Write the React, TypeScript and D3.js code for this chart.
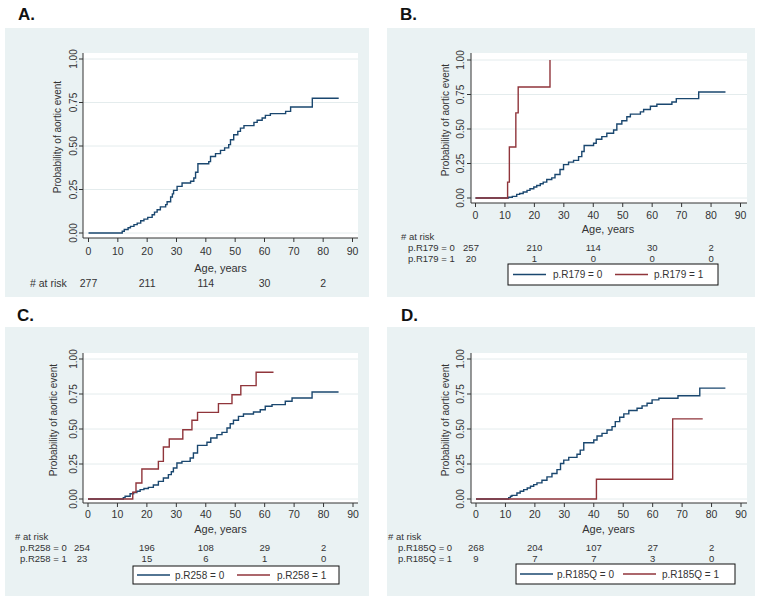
import React from "react";
import * as d3 from "d3";

// ---------- data ----------
const xTicks = [0, 10, 20, 30, 40, 50, 60, 70, 80, 90];
const yTicks = [0, 0.25, 0.5, 0.75, 1];
const riskAges = [0, 20, 40, 60, 80];

const aAll: [number, number][] = [[0,0],[11.5,0.01],[12.2,0.02],[13.5,0.03],[14.3,0.038],[15.5,0.048],[16.6,0.057],[17.8,0.07],[18.9,0.08],[20.2,0.09],[21.7,0.105],[22.5,0.12],[23.4,0.134],[24.5,0.15],[26.3,0.163],[26.8,0.18],[28,0.207],[28.6,0.225],[29,0.245],[30.2,0.268],[31.9,0.287],[34.8,0.297],[35.9,0.316],[36.5,0.349],[37.3,0.398],[41,0.41],[41.6,0.44],[43.3,0.456],[45,0.475],[46.4,0.489],[47.8,0.508],[48.4,0.536],[49.5,0.565],[50.9,0.584],[51.8,0.603],[53,0.617],[56.4,0.636],[57.5,0.648],[59.2,0.661],[60.3,0.676],[62,0.686],[67.2,0.699],[68.9,0.724],[76.3,0.774],[85.3,0.774]];

const bNo: [number, number][] = [[0,0],[11.2,0.005],[12.5,0.012],[14,0.026],[15,0.033],[16.2,0.043],[17.5,0.055],[18.5,0.067],[19.8,0.08],[20.8,0.091],[22,0.103],[23,0.115],[24.2,0.134],[25.9,0.146],[27,0.17],[28.7,0.206],[29.9,0.242],[31.6,0.26],[33.3,0.273],[35,0.3],[36.1,0.337],[36.9,0.38],[40.1,0.397],[41,0.426],[42.9,0.445],[44.6,0.469],[46.9,0.493],[48,0.536],[49.7,0.56],[51.4,0.589],[52.6,0.608],[56,0.624],[57.1,0.641],[59.4,0.665],[61.6,0.679],[66.7,0.696],[68.2,0.72],[75.8,0.768],[84.9,0.768]];
const bYes: [number, number][] = [[0,0],[10.9,0.115],[11.5,0.37],[13.7,0.617],[14.5,0.804],[25.3,1.0]];

const cNo: [number, number][] = [[0,0],[12,0.01],[12.6,0.02],[14.3,0.038],[15.5,0.046],[16.6,0.055],[17.7,0.067],[19,0.075],[20.5,0.083],[22.2,0.1],[23.9,0.126],[25.6,0.15],[27.3,0.174],[28.3,0.195],[29,0.221],[30.2,0.257],[31.9,0.269],[34.7,0.293],[35.8,0.329],[37.2,0.383],[40.4,0.405],[41.7,0.436],[43.8,0.46],[45.5,0.476],[47.2,0.507],[48.3,0.538],[49.4,0.562],[51.1,0.59],[52.8,0.607],[56.2,0.621],[58.5,0.638],[60.2,0.662],[62.5,0.674],[67,0.698],[69.3,0.721],[76.1,0.764],[85.1,0.764]];
const cYes: [number, number][] = [[0,0],[15.2,0.048],[16.3,0.114],[18.3,0.214],[23.9,0.269],[25.6,0.371],[27.6,0.429],[32.2,0.495],[35.3,0.562],[37.2,0.619],[44.3,0.681],[48.9,0.745],[51.9,0.81],[57.1,0.905],[63,0.905]];

const dNo: [number, number][] = [[0,0],[11.1,0.01],[11.7,0.02],[12.2,0.026],[13.9,0.043],[15,0.055],[16.2,0.067],[17.4,0.079],[18.5,0.091],[19.6,0.103],[20.7,0.115],[22.4,0.134],[24.1,0.158],[25.8,0.182],[27.5,0.21],[28.7,0.254],[29.8,0.278],[31.5,0.297],[34.3,0.32],[35.4,0.349],[36.6,0.402],[40,0.421],[41.1,0.45],[42.8,0.469],[44.5,0.493],[46.2,0.517],[47.3,0.553],[48.8,0.584],[50.2,0.608],[51.9,0.632],[54.7,0.648],[56.4,0.665],[58.1,0.684],[59.8,0.708],[62.1,0.72],[68.6,0.737],[76,0.792],[84.7,0.792]];
const dYes: [number, number][] = [[0,0],[40.9,0.141],[66.8,0.572],[77,0.572]];

const aRisk = [277, 211, 114, 30, 2];
const bRiskNo = [257, 210, 114, 30, 2];
const bRiskYes = [20, 1, 0, 0, 0];
const cRiskNo = [254, 196, 108, 29, 2];
const cRiskYes = [23, 15, 6, 1, 0];
const dRiskNo = [268, 204, 107, 27, 2];
const dRiskYes = [9, 7, 7, 3, 0];

const BLUE = "#1a476f";
const RED = "#90353b";
const BG = "#eaf2f3";
const GRID = "#e4eced";
const TXT = "#333";
const FONT = "'Liberation Sans', Arial, sans-serif";

type Series = { data: [number, number][]; color: string };
type RiskRow = { label: string; values: number[] };

interface PanelProps {
  letter: string;
  letterPos: [number, number];
  bg: { x: number; y: number; w: number; h: number };
  plot: { l: number; t: number; r: number; b: number };
  xr: [number, number];
  yr: [number, number];
  xTickLabelY: number;
  xTitleY: number;
  yTickLabelX: number;
  yTitleX: number;
  yTitleY: number;
  series: Series[];
  riskHeader: [number, number];
  riskRows: RiskRow[];
  riskRowY: number[];
  riskLabelX: number;
  firstColX: number;
  legend?: { x: number; y: number; w: number; h: number; items: { label: string; color: string; lx: number; tx: number }[] };
}

function Panel(p: PanelProps) {
  const x = d3.scaleLinear().domain([0, 90]).range(p.xr);
  const y = d3.scaleLinear().domain([0, 1]).range(p.yr);
  const line = d3
    .line<[number, number]>()
    .x((d) => x(d[0]))
    .y((d) => y(d[1]))
    .curve(d3.curveStepAfter);
  const fs = 10;
  const rowFs = p.riskRows.length > 1 ? 9.5 : 10.5;
  return (
    <g fontFamily={FONT}>
      <text x={p.letterPos[0]} y={p.letterPos[1]} fontSize={17} fontWeight="bold" fill="#111" dominantBaseline="central">
        {p.letter}
      </text>
      <rect x={p.bg.x} y={p.bg.y} width={p.bg.w} height={p.bg.h} fill={BG} />
      <rect x={p.plot.l} y={p.plot.t} width={p.plot.r - p.plot.l} height={p.plot.b - p.plot.t} fill="#fff" />
      {yTicks.map((v) => (
        <line key={"g" + v} x1={p.plot.l} x2={p.plot.r} y1={y(v)} y2={y(v)} stroke={GRID} strokeWidth={1} />
      ))}
      <line x1={p.plot.l} x2={p.plot.l} y1={p.plot.t} y2={p.plot.b} stroke="#333" strokeWidth={1} />
      <line x1={p.plot.l} x2={p.plot.r} y1={p.plot.b} y2={p.plot.b} stroke="#333" strokeWidth={1} />
      {yTicks.map((v) => (
        <g key={"yt" + v}>
          <line x1={p.plot.l - 4} x2={p.plot.l} y1={y(v)} y2={y(v)} stroke="#333" />
          <text
            transform={`translate(${p.yTickLabelX},${y(v)}) rotate(-90)`}
            textAnchor="middle"
            dominantBaseline="central"
            fontSize={fs}
            fill={TXT}
          >
            {v.toFixed(2)}
          </text>
        </g>
      ))}
      {xTicks.map((v) => (
        <g key={"xt" + v}>
          <line x1={x(v)} x2={x(v)} y1={p.plot.b} y2={p.plot.b + 4} stroke="#333" />
          <text x={x(v)} y={p.xTickLabelY} textAnchor="middle" dominantBaseline="central" fontSize={10.5} fill={TXT}>
            {v}
          </text>
        </g>
      ))}
      <text x={(p.xr[0] + p.xr[1]) / 2} y={p.xTitleY} textAnchor="middle" dominantBaseline="central" fontSize={11} fill={TXT}>
        Age, years
      </text>
      <text
        transform={`translate(${p.yTitleX},${p.yTitleY}) rotate(-90)`}
        textAnchor="middle"
        dominantBaseline="central"
        fontSize={fs}
        fill={TXT}
      >
        Probability of aortic event
      </text>
      {p.series.map((s, i) => (
        <path key={"s" + i} d={line(s.data) || ""} fill="none" stroke={s.color} strokeWidth={1.4} />
      ))}
      <text x={p.riskHeader[0]} y={p.riskHeader[1]} dominantBaseline="central" fontSize={p.riskRows.length > 1 ? 9.5 : 10.5} fill={TXT}>
        # at risk
      </text>
      {p.riskRows.map((r, ri) => (
        <g key={"r" + ri}>
          {r.label && (
            <text x={p.riskLabelX} y={p.riskRowY[ri]} dominantBaseline="central" fontSize={rowFs} fill={TXT}>
              {r.label}
            </text>
          )}
          {r.values.map((v, vi) => (
            <text
              key={vi}
              x={vi === 0 ? p.firstColX : x(riskAges[vi])}
              y={p.riskRowY[ri]}
              textAnchor="middle"
              dominantBaseline="central"
              fontSize={rowFs}
              fill={TXT}
            >
              {v}
            </text>
          ))}
        </g>
      ))}
      {p.legend && (
        <g>
          <rect x={p.legend.x} y={p.legend.y} width={p.legend.w} height={p.legend.h} fill="#fff" stroke="#111" strokeWidth={1} />
          {p.legend.items.map((it, i) => (
            <g key={"l" + i}>
              <line
                x1={p.legend!.x + it.lx}
                x2={p.legend!.x + it.lx + 33}
                y1={p.legend!.y + p.legend!.h / 2}
                y2={p.legend!.y + p.legend!.h / 2}
                stroke={it.color}
                strokeWidth={1.4}
              />
              <text
                x={p.legend!.x + it.tx}
                y={p.legend!.y + p.legend!.h / 2}
                dominantBaseline="central"
                fontSize={fs}
                fill={TXT}
              >
                {it.label}
              </text>
            </g>
          ))}
        </g>
      )}
    </g>
  );
}

export default function App() {
  return (
    <svg width={762} height={602} style={{ position: "absolute", left: 0, top: 0, background: "#fff" }}>
      <Panel
        letter="A."
        letterPos={[18, 14]}
        bg={{ x: 5, y: 28, w: 364, h: 269 }}
        plot={{ l: 83, t: 53, r: 358, b: 238 }}
        xr={[88.5, 352.5]}
        yr={[233, 59]}
        xTickLabelY={251}
        xTitleY={268}
        yTickLabelX={73}
        yTitleX={57}
        yTitleY={137}
        series={[{ data: aAll, color: BLUE }]}
        riskHeader={[30, 283]}
        riskRows={[{ label: "", values: aRisk }]}
        riskRowY={[283]}
        riskLabelX={30}
        firstColX={88.5}
      />
      <Panel
        letter="B."
        letterPos={[400, 14]}
        bg={{ x: 387, y: 28, w: 368, h: 269 }}
        plot={{ l: 471, t: 53, r: 747, b: 203 }}
        xr={[475.5, 740.5]}
        yr={[198, 60]}
        xTickLabelY={215}
        xTitleY={229}
        yTickLabelX={460}
        yTitleX={445}
        yTitleY={120}
        series={[
          { data: bNo, color: BLUE },
          { data: bYes, color: RED },
        ]}
        riskHeader={[401, 236.5]}
        riskRows={[
          { label: "p.R179 = 0", values: bRiskNo },
          { label: "p.R179 = 1", values: bRiskYes },
        ]}
        riskRowY={[247.5, 258.5]}
        riskLabelX={408}
        firstColX={471}
        legend={{
          x: 508, y: 264, w: 210, h: 21,
          items: [
            { label: "p.R179 = 0", color: BLUE, lx: 5, tx: 45 },
            { label: "p.R179 = 1", color: RED, lx: 107, tx: 146 },
          ],
        }}
      />
      <Panel
        letter="C."
        letterPos={[17, 315]}
        bg={{ x: 5, y: 327, w: 364, h: 269 }}
        plot={{ l: 83, t: 353, r: 358, b: 503 }}
        xr={[88, 353]}
        yr={[499, 359]}
        xTickLabelY={514}
        xTitleY={529}
        yTickLabelX={73}
        yTitleX={53}
        yTitleY={420}
        series={[
          { data: cNo, color: BLUE },
          { data: cYes, color: RED },
        ]}
        riskHeader={[15, 536.5]}
        riskRows={[
          { label: "p.R258 = 0", values: cRiskNo },
          { label: "p.R258 = 1", values: cRiskYes },
        ]}
        riskRowY={[547.5, 558.5]}
        riskLabelX={20}
        firstColX={82}
        legend={{
          x: 133, y: 566, w: 206, h: 18,
          items: [
            { label: "p.R258 = 0", color: BLUE, lx: 4, tx: 42 },
            { label: "p.R258 = 1", color: RED, lx: 104, tx: 144 },
          ],
        }}
      />
      <Panel
        letter="D."
        letterPos={[401, 315]}
        bg={{ x: 387, y: 327, w: 368, h: 269 }}
        plot={{ l: 471, t: 353, r: 747, b: 503 }}
        xr={[476, 741]}
        yr={[499, 359]}
        xTickLabelY={514}
        xTitleY={529}
        yTickLabelX={460}
        yTitleX={445}
        yTitleY={420}
        series={[
          { data: dNo, color: BLUE },
          { data: dYes, color: RED },
        ]}
        riskHeader={[388, 536.5]}
        riskRows={[
          { label: "p.R185Q = 0", values: dRiskNo },
          { label: "p.R185Q = 1", values: dRiskYes },
        ]}
        riskRowY={[547.5, 558.5]}
        riskLabelX={398}
        firstColX={476}
        legend={{
          x: 516, y: 564, w: 219, h: 20,
          items: [
            { label: "p.R185Q = 0", color: BLUE, lx: 4, tx: 41 },
            { label: "p.R185Q = 1", color: RED, lx: 107, tx: 146 },
          ],
        }}
      />
    </svg>
  );
}
